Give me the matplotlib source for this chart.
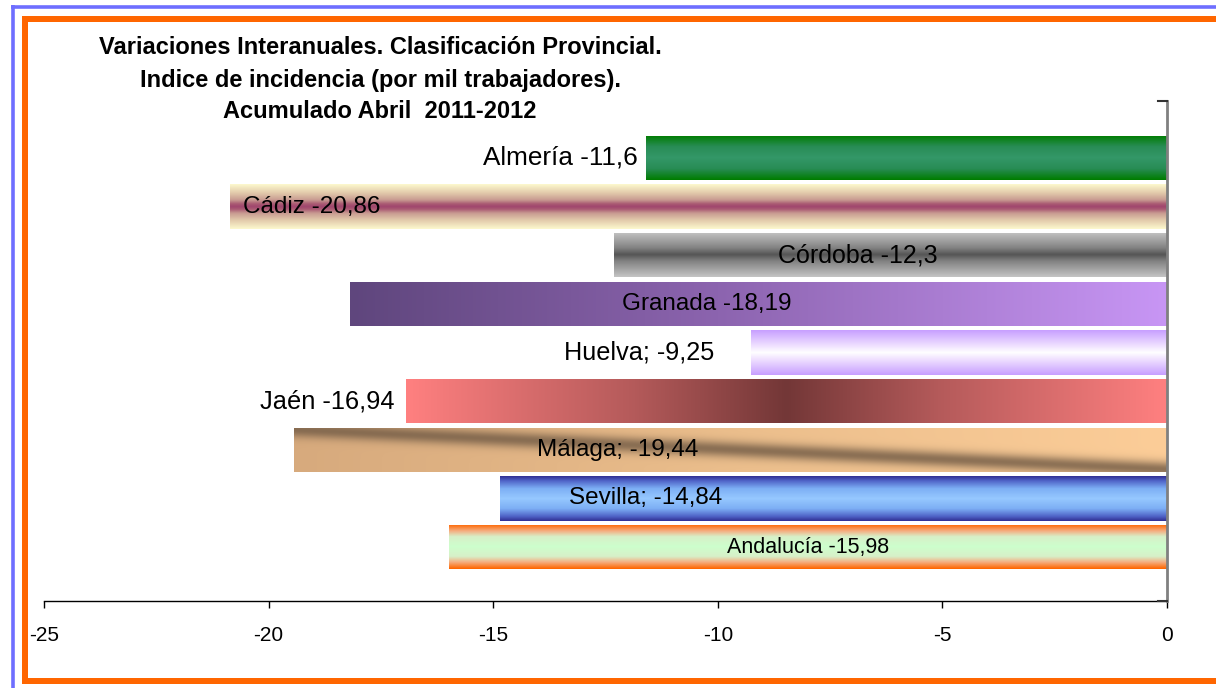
import numpy as np
import matplotlib
matplotlib.use("Agg")
import matplotlib.pyplot as plt
from matplotlib.lines import Line2D

plt.rcParams['font.family'] = ['Liberation Sans', 'DejaVu Sans']

# ---- data ----
provinces = ["Almería", "Cádiz", "Córdoba", "Granada", "Huelva", "Jaén", "Málaga", "Sevilla", "Andalucía"]
values = [-11.60, -20.86, -12.30, -18.19, -9.25, -16.94, -19.44, -14.84, -15.98]
labels = ["Almería -11,6", "Cádiz -20,86", "Córdoba -12,3", "Granada -18,19", "Huelva; -9,25",
          "Jaén -16,94", "Málaga; -19,44", "Sevilla; -14,84", "Andalucía -15,98"]
xticks = [-25, -20, -15, -10, -5, 0]
title_lines = ["Variaciones Interanuales. Clasificación Provincial.",
               "Indice de incidencia (por mil trabajadores).",
               "Acumulado Abril  2011-2012"]

# ---- label placement (style) ----
label_x = [-11.78, -20.57, -6.88, -10.24, -10.08, -17.19, -12.22, -11.60, -7.99]
label_ha = ["right", "left", "center", "center", "right", "right", "center", "center", "center"]
label_size = [18.8, 17.5, 18.0, 17.5, 18.2, 18.3, 17.5, 17.5, 15.5]

W, H = 1216, 688
fig = plt.figure(figsize=(W / 100, H / 100), dpi=100)
ax = fig.add_axes([44 / W, (H - 601) / H, (1167 - 44) / W, (601 - 101) / H])

ypos = np.arange(len(provinces))
bar_h = 0.91
bars = ax.barh(ypos, values, height=bar_h, color='none', edgecolor='none', zorder=2)


def interp_stops(f, stops):
    pos = np.array([s[0] for s in stops])
    cols = np.array([s[1] for s in stops], dtype=float) / 255.0
    out = np.zeros(f.shape + (3,))
    for c in range(3):
        out[..., c] = np.interp(f, pos, cols[:, c])
    return out


nu, nv = 400, 60
u = np.linspace(0, 1, nu)[None, :].repeat(nv, 0)
v = np.linspace(0, 1, nv)[:, None].repeat(nu, 1)
fv = np.abs(v - 0.5) * 2
fu = np.abs(u - 0.5) * 2

grads = []
# Almería
grads.append(interp_stops(fv, [(0, (52, 152, 104)), (0.5, (40, 140, 85)), (1, (0, 125, 0))]))
# Cádiz
grads.append(interp_stops(fv, [(0, (160, 70, 110)), (0.12, (170, 90, 115)), (0.3, (200, 155, 145)),
                               (0.6, (225, 200, 170)), (1, (252, 248, 205))]))
# Córdoba
grads.append(interp_stops(fv, [(0, (85, 85, 85)), (0.3, (130, 130, 130)), (1, (195, 195, 195))]))
# Granada
grads.append(interp_stops(u, [(0, (95, 70, 125)), (0.45, (140, 100, 175)), (1, (200, 150, 245))]))
# Huelva
grads.append(interp_stops(fv, [(0, (255, 255, 255)), (0.3, (240, 225, 255)), (1, (200, 160, 255))]))
# Jaén
grads.append(interp_stops(fu, [(0, (115, 55, 55)), (0.4, (180, 90, 90)), (1, (255, 128, 128))]))
# Málaga
line_v = 0.05 + 0.9 * u
d = np.exp(-((v - line_v) / 0.18) ** 2)
base = interp_stops(u, [(0, (215, 170, 125)), (0.5, (235, 190, 140)), (1, (252, 205, 152))])
dark = np.array([115, 92, 70]) / 255.0
grads.append(base * (1 - d[..., None] * 0.8) + dark * d[..., None] * 0.8)
# Sevilla
grads.append(interp_stops(fv, [(0, (150, 200, 255)), (0.45, (125, 175, 245)), (0.8, (80, 100, 200)),
                               (1, (50, 50, 150))]))
# Andalucía
grads.append(interp_stops(fv, [(0, (205, 255, 205)), (0.45, (215, 240, 200)), (0.7, (245, 175, 130)),
                               (1, (255, 102, 0))]))

for rect, g in zip(bars.patches, grads):
    x0 = rect.get_x()
    x1 = x0 + rect.get_width()
    y0 = rect.get_y()
    y1 = y0 + rect.get_height()
    im = ax.imshow(g, extent=(min(x0, x1), max(x0, x1), y1, y0), origin='upper',
                   aspect='auto', interpolation='bilinear', zorder=2)
    im.set_clip_path(rect)

for i, (lab, lx, ha, fs) in enumerate(zip(labels, label_x, label_ha, label_size)):
    ax.text(lx, ypos[i], lab, ha=ha, va='center', fontsize=fs, color='black', zorder=5)

ax.set_xlim(-25, 0)
ax.set_ylim(9.11, -1.17)
ax.set_xticks(xticks)
ax.set_xticklabels([str(t) for t in xticks], fontsize=15)
ax.tick_params(axis='x', direction='out', length=5, width=1, color='black', pad=13)
ax.set_yticks([])

for s in ['left', 'top']:
    ax.spines[s].set_visible(False)
ax.spines['bottom'].set_color('black')
ax.spines['bottom'].set_linewidth(1)
ax.spines['right'].set_color('#808080')
ax.spines['right'].set_linewidth(2)
ax.spines['right'].set_zorder(6)

# small y-axis ticks at right spine (top & bottom)
for yy in [101, 601]:
    fig.add_artist(Line2D([1158 / W, 1167 / W], [(H - yy) / H, (H - yy) / H],
                          color='#333333', lw=1.5, transform=fig.transFigure))

# title
for ty, t in zip([47, 81, 112], title_lines):
    fig.text(380 / W, (H - ty) / H, t, ha='center', va='center', fontsize=17,
             fontweight='bold', color='black')

# frame lines
def px_line(xs, ys, color, lw):
    fig.add_artist(Line2D([x / W for x in xs], [(H - y) / H for y in ys], color=color,
                          lw=lw, transform=fig.transFigure, solid_capstyle='butt'))

blue = '#6E6EFF'
orange = '#FF6600'
px_line([12.5, 12.5], [5, 688], blue, 3.6 * 0.72)
px_line([11, 1216], [7, 7], blue, 3.6 * 0.72)
px_line([24.5, 24.5], [16, 688 - 6], orange, 6 * 0.72)
px_line([21.5, 1216], [19, 19], orange, 6 * 0.72)
px_line([21.5, 1216], [681, 681], orange, 6 * 0.72)

fig.savefig("out.png", dpi=100)
